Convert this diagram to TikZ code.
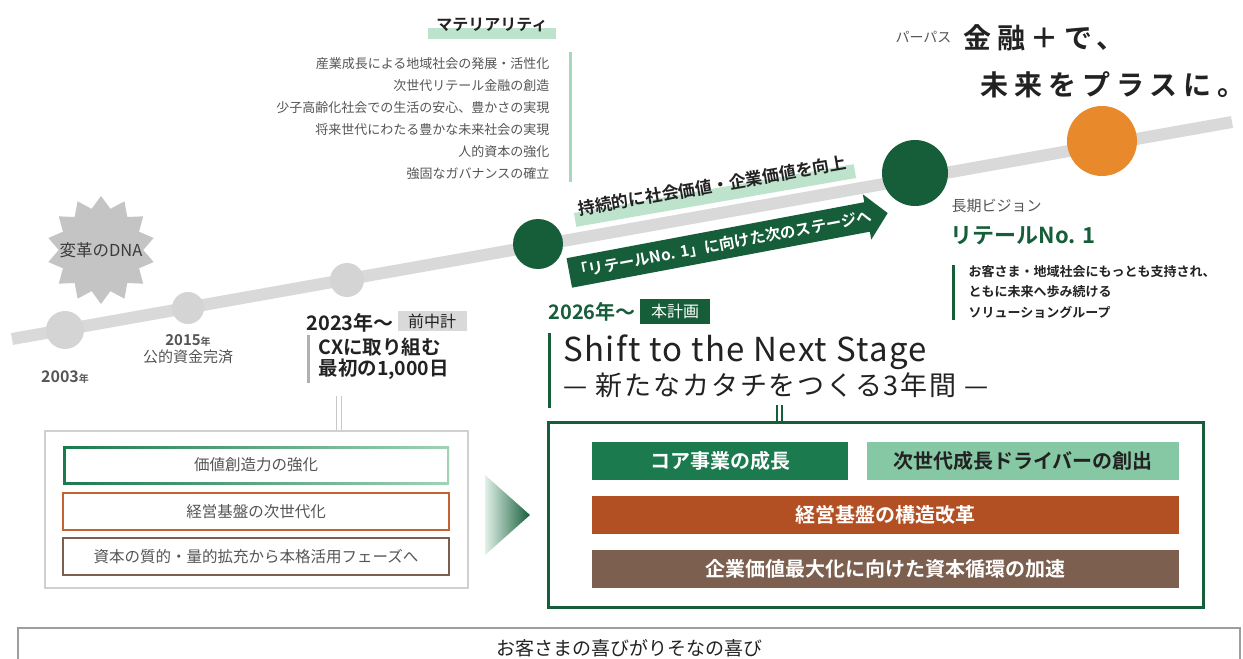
\documentclass[tikz,border=0pt]{standalone}
\usepackage{fontspec}
\setmainfont{Noto Sans CJK JP}[BoldFont={Noto Sans CJK JP Bold}]
\usetikzlibrary{shapes.geometric}
\usetikzlibrary{calc}

\definecolor{dkgreen}{RGB}{22,94,58}
\definecolor{coregreen}{RGB}{27,122,78}
\definecolor{palegreen}{RGB}{134,200,164}
\definecolor{hlgreen}{RGB}{190,227,205}
\definecolor{matgreen}{RGB}{168,216,187}
\definecolor{linegray}{RGB}{217,217,217}
\definecolor{dotgray}{RGB}{212,212,212}
\definecolor{burstgray}{RGB}{196,196,196}
\definecolor{bargray}{RGB}{176,176,176}
\definecolor{txtgray}{RGB}{85,85,85}
\definecolor{inkgray}{RGB}{34,34,34}
\definecolor{vorange}{RGB}{232,137,43}
\definecolor{rust}{RGB}{178,80,35}
\definecolor{rustline}{RGB}{196,98,48}
\definecolor{umber}{RGB}{124,95,79}

\newcommand{\fsz}[1]{\fontsize{#1}{#1}\selectfont}

\tikzstyle{dot} = [circle, inner sep=0pt, fill=dotgray]
\tikzstyle{milestone} = [circle, inner sep=0pt, fill=dkgreen]
\tikzstyle{planbox} = [rectangle, inner sep=0pt, minimum height=38pt, text centered, font=\bfseries\fsz{20}, text=white]
\tikzstyle{oldbox} = [rectangle, inner sep=0pt, fill=white, line width=2.5pt, minimum width=386pt, minimum height=37pt, text=txtgray, font=\fsz{15.5}]
\tikzstyle{tag} = [rectangle, inner sep=0pt, minimum height=20pt, font=\fsz{16}]
\tikzstyle{bar} = [line width=3pt]

\begin{document}
\begin{tikzpicture}[x=1pt, y=-1pt]

  \useasboundingbox (0,0) rectangle (1243,659);
  \fill[white] (0,0) rectangle (1243,659);

  % Timeline
  \coordinate (lineStart) at (12,339);
  \coordinate (lineEnd) at (1232,122);
  \draw[line width=12pt, linegray] (lineStart) -- (lineEnd);

  \node[dot, minimum size=38pt] (y2003) at (65,330) {};
  \node[dot, minimum size=32pt] (y2015) at (188,308) {};
  \node[dot, minimum size=34pt] (y2023) at (347,280) {};
  \node[milestone, minimum size=50pt] (y2026) at (538,244) {};
  \node[milestone, minimum size=66pt] (vision) at (915,173) {};
  \node[circle, inner sep=0pt, fill=vorange, minimum size=70pt] (purpose) at (1102,141) {};

  % DNA burst
  \node[star, star points=14, star point ratio=1.28, minimum size=108pt, inner sep=0pt, fill=burstgray] (dnaBurst) at (101,250) {};
  \node[font=\fsz{16.5}, text=txtgray!70!black] (dnaText) at (dnaBurst) {変革のDNA};

  % Past milestones
  \node[font=\bfseries\fsz{16}, text=txtgray] (y2003Label) at (65,377) {2003{\fsz{10}年}};
  \node[font=\bfseries\fsz{15}, text=txtgray] (y2015Label) at (188,340) {2015{\fsz{10}年}};
  \node[font=\fsz{15}, text=txtgray] (y2015Note) at (188,357) {公的資金完済};

  % Previous plan
  \node[anchor=west, font=\bfseries\fsz{20}, text=inkgray] (prevYear) at (303,323) {2023年～};
  \node[tag, fill=linegray, minimum width=69pt, text=inkgray] (prevTag) at (432,321) {前中計};
  \draw[bar, bargray] (308,335) -- (308,383);
  \node[anchor=west, font=\bfseries\fsz{19.5}, text=inkgray] (prevLine1) at (315,347) {CXに取り組む};
  \node[anchor=west, font=\bfseries\fsz{19.5}, text=inkgray] (prevLine2) at (315,369) {最初の1,000日};

  % Previous plan block
  \node[draw=bargray!60, line width=2pt, minimum width=423pt, minimum height=157pt] (oldFrame) at (256.5,509.5) {};
  \coordinate (prevLink) at (336,396);
  \draw[bargray!70, line width=1pt] (prevLink) -- (prevLink |- oldFrame.north);
  \draw[bargray!70, line width=1pt] ([xshift=5pt]prevLink) -- ([xshift=5pt]prevLink |- oldFrame.north);
  \shade[left color=coregreen, right color=palegreen!80] (63,446) rectangle (449,484);
  \node[oldbox, minimum width=381pt, minimum height=33pt, line width=0pt] (valueBox) at (256,465) {価値創造力の強化};
  \node[oldbox, draw=rustline] (baseBox) at (256,511.5) {経営基盤の次世代化};
  \node[oldbox, draw=umber] (capBox) at (256,556.5) {資本の質的・量的拡充から本格活用フェーズへ};

  % Transition arrow
  \shade[left color=palegreen!25, right color=dkgreen] (485,475) -- (530,515) -- (485,555) -- cycle;

  % Materiality
  \fill[hlgreen] (428,28) rectangle (556,39);
  \node[font=\bfseries\fsz{16}, text=inkgray] (matTitle) at (492,25) {マテリアリティ};
  \draw[bar, matgreen] (570,52) -- (570,182);
  \foreach \txt [count=\i] in {産業成長による地域社会の発展・活性化, 次世代リテール金融の創造, 少子高齢化社会での生活の安心、豊かさの実現, 将来世代にわたる豊かな未来社会の実現, 人的資本の強化, 強固なガバナンスの確立}
    \node[anchor=east, font=\fsz{13}, text=txtgray] (mat\i) at (553,42+22*\i) {\txt};

  % Value band
  \begin{scope}[shift={(715,195.5)}, rotate=9.9]
    \fill[hlgreen] (-142,-7) rectangle (142,7);
    \node[transform shape, font=\bfseries\fsz{17}, text=inkgray] (valueBand) at (-1,-10) {持続的に社会価値・企業価値を向上};
  \end{scope}

  % Next stage arrow
  \begin{scope}[shift={(728.5,243)}, rotate=10.65]
    \fill[dkgreen] (-162,-15) -- (141,-15) -- (141,-23) -- (162,0) -- (141,23) -- (141,15) -- (-162,15) -- cycle;
    \node[transform shape, font=\bfseries\fsz{15.5}, text=white] (nextStage) at (-6,0) {「リテールNo. 1」に向けた次のステージへ};
  \end{scope}

  % Current plan
  \node[anchor=west, font=\bfseries\fsz{20}, text=dkgreen] (planYear) at (545,312) {2026年～};
  \node[tag, fill=dkgreen, minimum width=70pt, minimum height=25pt, text=white] (planTag) at (675,311) {本計画};
  \draw[bar, dkgreen] (549,333) -- (549,408);
  \node[anchor=west, font=\fsz{33}\addfontfeature{LetterSpace=4}, text=inkgray] (shiftTitle) at (560,352) {Shift to the Next Stage};
  \node[anchor=west, font=\fsz{27}\addfontfeature{LetterSpace=7}, text=inkgray] (shiftSub) at (560,385) {— 新たなカタチをつくる3年間 —};

  % Current plan block
  \node[draw=dkgreen, line width=3pt, minimum width=655pt, minimum height=185pt] (planFrame) at (875.5,514.5) {};
  \coordinate (planLink) at (777,405);
  \draw[dkgreen, line width=1.2pt] (planLink) -- (planLink |- planFrame.north);
  \draw[dkgreen, line width=1.2pt] ([xshift=5pt]planLink) -- ([xshift=5pt]planLink |- planFrame.north);
  \node[planbox, fill=coregreen, minimum width=256pt] (coreBox) at (720,461) {コア事業の成長};
  \node[planbox, fill=palegreen, minimum width=312pt, text=inkgray] (driverBox) at (1023,461) {次世代成長ドライバーの創出};
  \node[planbox, fill=rust, minimum width=587pt] (reformBox) at (885.5,515) {経営基盤の構造改革};
  \node[planbox, fill=umber, minimum width=587pt] (cycleBox) at (885.5,569) {企業価値最大化に向けた資本循環の加速};

  % Purpose
  \node[anchor=east, font=\fsz{14}, text=txtgray] (purposeTag) at (955,37) {パーパス};
  \node[anchor=west, font=\bfseries\fsz{28}\addfontfeature{LetterSpace=20}, text=inkgray] (purposeLine1) at (960,38) {金融＋で、};
  \node[anchor=west, font=\bfseries\fsz{28}\addfontfeature{LetterSpace=21}, text=inkgray] (purposeLine2) at (977,85) {未来をプラスに。};

  % Long-term vision
  \node[anchor=west, font=\fsz{15}, text=txtgray] (visionTag) at (948,206) {長期ビジョン};
  \node[anchor=west, font=\bfseries\fsz{22}, text=dkgreen] (visionName) at (947,236) {リテールNo. 1};
  \draw[bar, dkgreen] (953,265) -- (953,320);
  \node[anchor=west, font=\bfseries\fsz{13}, text=inkgray] (visionLine1) at (965,272) {お客さま・地域社会にもっとも支持され、};
  \node[anchor=west, font=\bfseries\fsz{13}, text=inkgray] (visionLine2) at (965,292) {ともに未来へ歩み続ける};
  \node[anchor=west, font=\bfseries\fsz{13}, text=inkgray] (visionLine3) at (965,312) {ソリューショングループ};

  % Customer joy
  \node[draw=bargray!90!black, line width=2pt, minimum width=1222pt, minimum height=40pt, anchor=north, font=\fsz{19}, text=inkgray] (joyFrame) at (629,627) {お客さまの喜びがりそなの喜び};

\end{tikzpicture}
\end{document}
